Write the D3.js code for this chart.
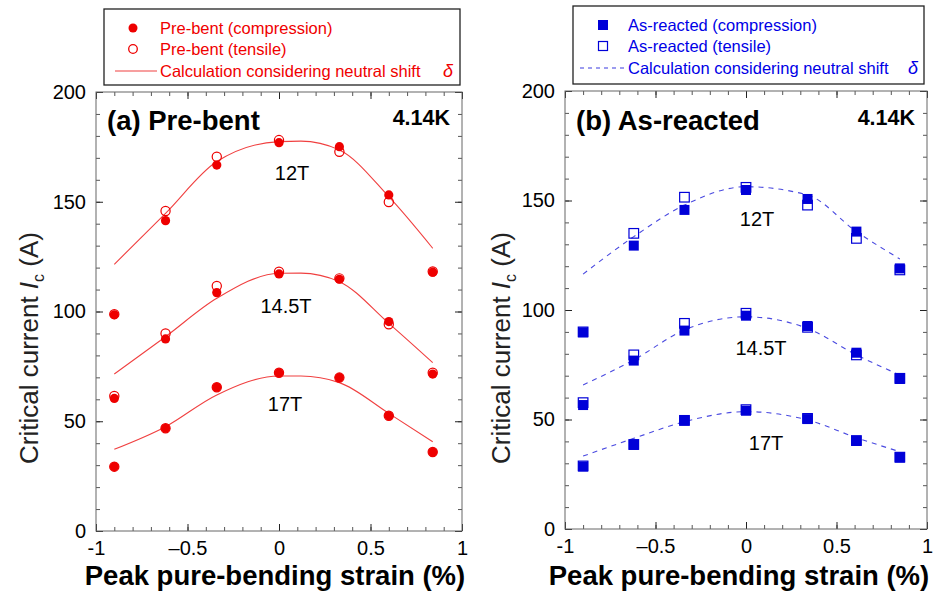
<!DOCTYPE html>
<html><head><meta charset="utf-8">
<script src="https://cdn.jsdelivr.net/npm/d3@7/dist/d3.min.js"></script>
<style>
body{margin:0;background:#fff;}
text{font-family:"Liberation Sans",Arial,sans-serif;}
</style></head>
<body><svg id="c" width="935" height="610"></svg>
<script>
// ---- data ----
const xTickVals = [-1, -0.5, 0, 0.5, 1];
const yTickVals = [0, 50, 100, 150, 200];
const fieldLabels = ["12T", "14.5T", "17T"];

const strainA = [-0.9, -0.62, -0.34, 0, 0.33, 0.6, 0.84];
const compA12  = [98.5, 141.4, 166.7, 176.9, 175.1, 153.1, 117.9];
const tensA12  = [98.8, 145.8, 170.5, 178.1, 172.8, 149.9, 118.2];
const compA145 = [60.4, 87.5, 108.6, 117.1, 114.7, 95.4, 71.5];
const tensA145 = [61.5, 90.0, 111.6, 118.1, 115.1, 94.2, 72.1];
const compA17  = [29.3, 46.8, 65.5, 72.1, 69.9, 52.5, 36.0];
const tensA17  = [29.3, 46.8, 65.5, 72.1, 69.9, 52.5, 36.0];

const calcStrainA = [-0.9, -0.62, -0.34, 0, 0.12, 0.33, 0.6, 0.84];
const calcA12  = [121.5, 144.7, 168.3, 177.4, 177.6, 173.6, 152.3, 128.8];
const calcA145 = [71.5, 88.5, 106.0, 117.4, 117.5, 113.6, 94.6, 76.7];
const calcA17  = [37.2, 47.5, 62.0, 70.6, 70.6, 67.6, 53.6, 40.7];

const strainB = [-0.9, -0.62, -0.34, 0, 0.34, 0.61, 0.85];
const compB12  = [89.8, 129.4, 145.7, 154.8, 150.7, 135.8, 119.0];
const tensB12  = [90.0, 135.0, 151.5, 156.0, 147.9, 132.7, 118.3];
const compB145 = [56.6, 76.9, 90.6, 97.4, 92.7, 80.5, 68.5];
const tensB145 = [57.7, 79.5, 93.9, 98.5, 92.1, 79.5, 68.8];
const compB17  = [28.5, 38.4, 49.5, 54.0, 50.2, 40.2, 32.6];
const tensB17  = [28.8, 38.6, 49.6, 54.5, 50.5, 40.4, 32.8];

const calcStrainB = [-0.9, -0.62, -0.34, 0, 0.34, 0.61, 0.85];
const calcB12  = [116.4, 133.5, 147.9, 156.3, 152.5, 135.8, 123.3];
const calcB145 = [65.8, 77.2, 90.9, 96.9, 91.6, 79.5, 70.3];
const calcB17  = [33.3, 41.4, 49.0, 53.6, 49.8, 41.7, 35.3];

const RED = "#ee0000", BLUE = "#0000d8";
const svg = d3.select("#c");

function panel(o) {
  const x = d3.scaleLinear().domain([-1, 1]).range([o.x0, o.x1]);
  const y = d3.scaleLinear().domain([0, 200]).range([o.y1, o.y0]);
  const g = svg.append("g");
  const fmt = d => d === 0 ? "0" : (Number.isInteger(d) ? (d < 0 ? "-" + Math.abs(d) : String(d)) : (d < 0 ? "\u2013" + Math.abs(d) : String(d)));

  // minor ticks
  const minor = (axis, tr) => g.append("g").attr("transform", tr)
      .call(axis.tickSize(-4).tickFormat("")).call(s => s.select(".domain").remove())
      .selectAll("line").attr("stroke", "#555");
  minor(d3.axisLeft(y).ticks(20), `translate(${o.x0},0)`);
  minor(d3.axisRight(y).ticks(20), `translate(${o.x1},0)`);
  minor(d3.axisBottom(x).ticks(20), `translate(0,${o.y1})`);
  minor(d3.axisTop(x).ticks(20), `translate(0,${o.y0})`);
  // major ticks
  const major = (axis, tr, lab) => {
    const a = g.append("g").attr("transform", tr)
      .call(axis.tickSizeInner(-7).tickSizeOuter(0).tickPadding(lab ? 10 : 0).tickFormat(lab ? fmt : ""))
      .call(s => s.select(".domain").remove());
    a.selectAll("line").attr("stroke", "#222");
    a.selectAll("text").attr("font-size", 20).attr("fill", "#000")
      .attr("font-family", "'Liberation Sans',Arial,sans-serif");
    return a;
  };
  major(d3.axisLeft(y).tickValues(yTickVals), `translate(${o.x0},0)`, true);
  major(d3.axisRight(y).tickValues(yTickVals), `translate(${o.x1},0)`, false);
  major(d3.axisBottom(x).tickValues(xTickVals), `translate(0,${o.y1})`, true);
  major(d3.axisTop(x).tickValues(xTickVals), `translate(0,${o.y0})`, false);

  g.append("rect").attr("x", o.x0).attr("y", o.y0).attr("width", o.x1 - o.x0).attr("height", o.y1 - o.y0)
    .attr("fill", "none").attr("stroke", "#666").attr("stroke-width", 1);

  // calc curves
  const line = d3.line().x(d => x(d[0])).y(d => y(d[1])).curve(d3.curveMonotoneX);
  o.calc.forEach(c => {
    g.append("path").attr("d", line(o.calcX.map((s, i) => [s, c[i]])))
      .attr("fill", "none").attr("stroke", o.lineColor).attr("stroke-width", 1.1)
      .attr("stroke-dasharray", o.dash);
  });

  // tensile (open)
  o.tens.forEach(t => {
    o.strain.forEach((s, i) => {
      if (o.shape === "circle") {
        g.append("circle").attr("cx", x(s)).attr("cy", y(t[i])).attr("r", 4.6)
          .attr("fill", "none").attr("stroke", o.color).attr("stroke-width", 1.2);
      } else {
        g.append("rect").attr("x", x(s) - 4.8).attr("y", y(t[i]) - 4.8).attr("width", 9.6).attr("height", 9.6)
          .attr("fill", "none").attr("stroke", o.color).attr("stroke-width", 1.2);
      }
    });
  });
  // compression (filled)
  o.comp.forEach(c => {
    o.strain.forEach((s, i) => {
      if (o.shape === "circle") {
        g.append("circle").attr("cx", x(s)).attr("cy", y(c[i])).attr("r", 4.6).attr("fill", o.color);
      } else {
        g.append("rect").attr("x", x(s) - 5).attr("y", y(c[i]) - 5).attr("width", 10).attr("height", 10)
          .attr("fill", o.color);
      }
    });
  });

  // annotations
  g.append("text").attr("x", o.titleX).attr("y", 130).attr("font-size", 27.5).attr("font-weight", "bold").text(o.title);
  g.append("text").attr("x", o.x1 - 12).attr("y", 125).attr("text-anchor", "end").attr("font-size", 21.5)
    .attr("font-weight", "bold").text("4.14K");
  o.fieldPos.forEach((p, i) => {
    g.append("text").attr("x", p[0]).attr("y", p[1]).attr("text-anchor", "middle").attr("font-size", 20)
      .text(fieldLabels[i]);
  });

  // axis titles
  const yl = g.append("text").attr("transform", `translate(${o.ylabX},348) rotate(-90)`)
    .attr("text-anchor", "middle").attr("font-size", 26).attr("fill", "#222");
  yl.append("tspan").text("Critical current ");
  yl.append("tspan").attr("font-style", "italic").text("I");
  yl.append("tspan").attr("font-size", 16).attr("dy", 6).text("c");
  yl.append("tspan").attr("dy", -6).text(" (A)");
  g.append("text").attr("x", o.xlabX).attr("y", 585).attr("text-anchor", "middle")
    .attr("font-size", 27.5).attr("font-weight", "bold").text("Peak pure-bending strain (%)");
}

panel({x0: 96, x1: 462, y0: 92, y1: 531, strain: strainA, comp: [compA12, compA145, compA17],
  tens: [tensA12, tensA145, tensA17], calcX: calcStrainA, calc: [calcA12, calcA145, calcA17],
  color: RED, lineColor: "#f04040", dash: null, shape: "circle", title: "(a) Pre-bent", titleX: 107,
  fieldPos: [[292, 180], [286, 313], [285, 411]], ylabX: 38, xlabX: 275});
panel({x0: 565, x1: 927, y0: 91, y1: 529, strain: strainB, comp: [compB12, compB145, compB17],
  tens: [tensB12, tensB145, tensB17], calcX: calcStrainB, calc: [calcB12, calcB145, calcB17],
  color: BLUE, lineColor: "#4a4ae0", dash: "5,5", shape: "square", title: "(b) As-reacted", titleX: 576,
  fieldPos: [[757, 226], [761, 355], [766, 450]], ylabX: 510, xlabX: 739});

// legends
function legend(o) {
  const g = svg.append("g");
  g.append("rect").attr("x", o.x).attr("y", o.y).attr("width", o.w).attr("height", o.h)
    .attr("fill", "#fff").attr("stroke", "#222").attr("stroke-width", 1.3);
  const rows = [o.y + 19, o.y + 40, o.y + 62];
  if (o.shape === "circle") {
    g.append("circle").attr("cx", o.mx).attr("cy", rows[0]).attr("r", 4.5).attr("fill", o.color);
    g.append("circle").attr("cx", o.mx).attr("cy", rows[1]).attr("r", 4.3).attr("fill", "none")
      .attr("stroke", o.color).attr("stroke-width", 1.3);
  } else {
    g.append("rect").attr("x", o.mx - 5).attr("y", rows[0] - 5).attr("width", 10).attr("height", 10).attr("fill", o.color);
    g.append("rect").attr("x", o.mx - 4.5).attr("y", rows[1] - 4.5).attr("width", 9).attr("height", 9)
      .attr("fill", "none").attr("stroke", o.color).attr("stroke-width", 1.2);
  }
  g.append("line").attr("x1", o.lx0).attr("x2", o.lx1).attr("y1", rows[2]).attr("y2", rows[2])
    .attr("stroke", o.lineColor).attr("stroke-width", 1.1).attr("stroke-dasharray", o.dash);
  o.labels.forEach((t, i) => {
    g.append("text").attr("x", o.tx).attr("y", rows[i] + 6).attr("font-size", 16.5).attr("fill", o.textColor).text(t);
  });
  g.append("text").attr("x", o.dx).attr("y", rows[2] + 6).attr("font-size", 18).attr("font-style", "italic")
    .attr("font-family", "'Liberation Serif','Times New Roman',serif").attr("fill", o.textColor).text("\u03b4");
}
legend({x: 104, y: 9, w: 356, h: 76, mx: 133, lx0: 115, lx1: 157, tx: 160, dx: 443, shape: "circle",
  color: RED, lineColor: "#f04040", dash: null, textColor: "#f00000",
  labels: ["Pre-bent (compression)", "Pre-bent (tensile)", "Calculation considering neutral shift"]});
legend({x: 573, y: 6, w: 351, h: 78, mx: 603, lx0: 580, lx1: 625, tx: 628, dx: 908, shape: "square",
  color: BLUE, lineColor: "#3a3ae0", dash: "4,4", textColor: "#0000e6",
  labels: ["As-reacted (compression)", "As-reacted (tensile)", "Calculation considering neutral shift"]});
</script></body></html>
